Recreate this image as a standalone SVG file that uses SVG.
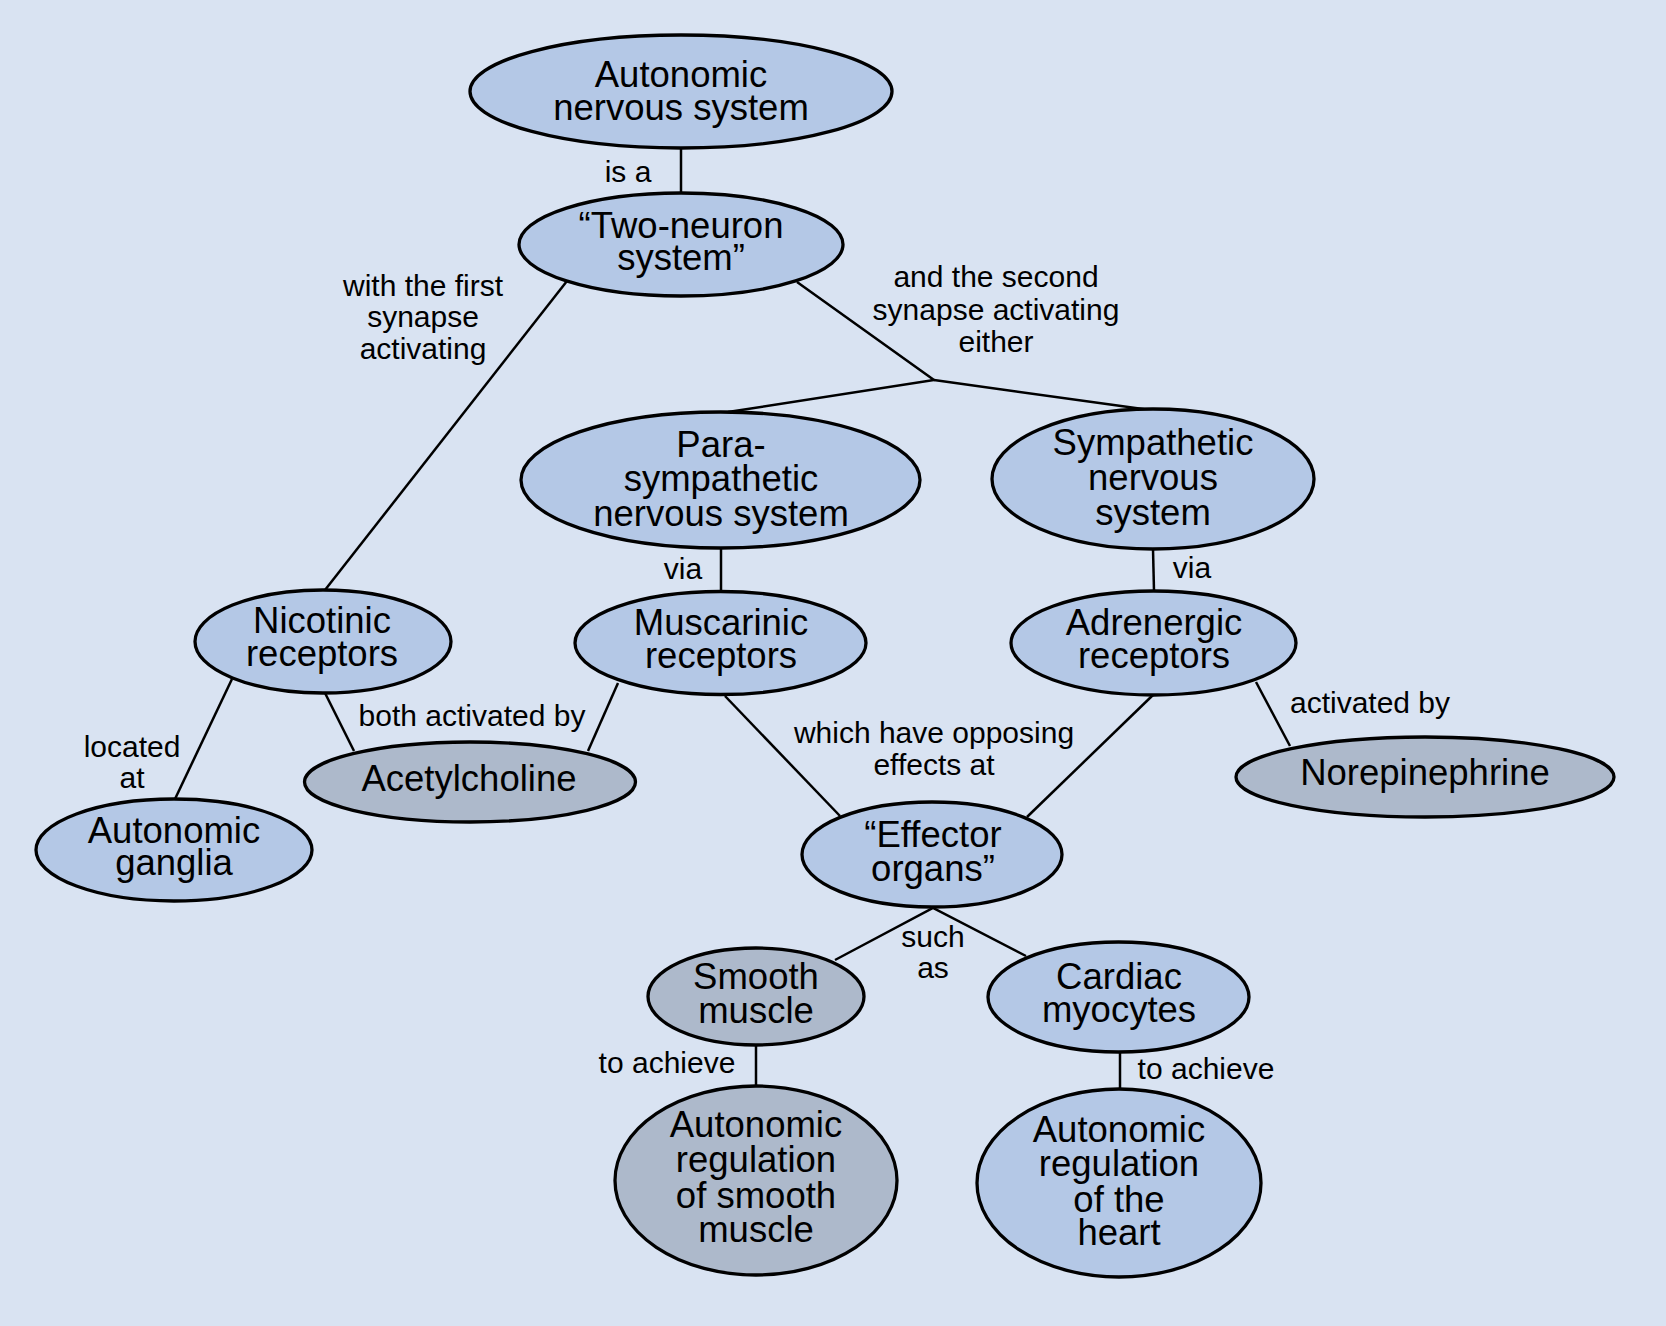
<svg xmlns="http://www.w3.org/2000/svg" width="1666" height="1326" viewBox="0 0 1666 1326">
<style>
.bg{fill:#d9e3f2}
.n{fill:#b4c8e6;stroke:#000;stroke-width:3.3}
.g{fill:#adb9cb;stroke:#000;stroke-width:3.3}
.t{font-family:"Liberation Sans",Arial,Helvetica,sans-serif;font-size:36.5px;fill:#000;text-anchor:middle}
.l{font-family:"Liberation Sans",Arial,Helvetica,sans-serif;font-size:30px;fill:#000;text-anchor:middle}
.c{stroke:#000;stroke-width:2.5;fill:none}
</style>
<rect class="bg" x="0" y="0" width="1666" height="1326"/>
<g id="connectors">
<line class="c" x1="681" y1="148" x2="681" y2="193"/>
<text class="l" x="628" y="182">is a</text>
<line class="c" x1="567" y1="281" x2="325" y2="590"/>
<text class="l" x="423" y="296">with the first</text>
<text class="l" x="423" y="327">synapse</text>
<text class="l" x="423" y="359">activating</text>
<polyline class="c" points="797,282 934,380 728,412"/>
<line class="c" x1="934" y1="380" x2="1150" y2="410"/>
<text class="l" x="996" y="287">and the second</text>
<text class="l" x="996" y="320">synapse activating</text>
<text class="l" x="996" y="352">either</text>
<line class="c" x1="721" y1="548" x2="721" y2="592"/>
<text class="l" x="683" y="579">via</text>
<line class="c" x1="1153" y1="549" x2="1154" y2="591"/>
<text class="l" x="1192" y="578">via</text>
<line class="c" x1="232" y1="679" x2="175" y2="799"/>
<text class="l" x="132" y="757">located</text>
<text class="l" x="132" y="788">at</text>
<line class="c" x1="325" y1="693" x2="354" y2="751"/>
<line class="c" x1="618" y1="683" x2="588" y2="751"/>
<text class="l" x="472" y="726">both activated by</text>
<line class="c" x1="725" y1="696" x2="840" y2="816"/>
<line class="c" x1="1153" y1="695" x2="1027" y2="817"/>
<text class="l" x="934" y="743">which have opposing</text>
<text class="l" x="934" y="775">effects at</text>
<line class="c" x1="1256" y1="682" x2="1290" y2="746"/>
<text class="l" x="1370" y="713">activated by</text>
<polyline class="c" points="835,960 933,908 1026,956"/>
<text class="l" x="933" y="947">such</text>
<text class="l" x="933" y="978">as</text>
<line class="c" x1="756" y1="1045" x2="756" y2="1086"/>
<text class="l" x="667" y="1073">to achieve</text>
<line class="c" x1="1120" y1="1052" x2="1120" y2="1089"/>
<text class="l" x="1206" y="1079">to achieve</text>
</g>
<g id="ans">
<ellipse class="n" cx="681" cy="91.5" rx="211" ry="56.5"/>
<text class="t" x="681" y="87">Autonomic</text>
<text class="t" x="681" y="120">nervous system</text>
</g>
<g id="twoneuron">
<ellipse class="n" cx="681" cy="244.5" rx="162" ry="51.5"/>
<text class="t" x="681" y="238">“Two-neuron</text>
<text class="t" x="681" y="270">system”</text>
</g>
<g id="para">
<ellipse class="n" cx="720.5" cy="480" rx="199.5" ry="68"/>
<text class="t" x="721" y="457">Para-</text>
<text class="t" x="721" y="491">sympathetic</text>
<text class="t" x="721" y="526">nervous system</text>
</g>
<g id="symp">
<ellipse class="n" cx="1153" cy="479" rx="161" ry="70"/>
<text class="t" x="1153" y="455">Sympathetic</text>
<text class="t" x="1153" y="490">nervous</text>
<text class="t" x="1153" y="525">system</text>
</g>
<g id="nicotinic">
<ellipse class="n" cx="323" cy="641.5" rx="128" ry="51.5"/>
<text class="t" x="322" y="633">Nicotinic</text>
<text class="t" x="322" y="666">receptors</text>
</g>
<g id="muscarinic">
<ellipse class="n" cx="720.5" cy="643" rx="145.5" ry="51.5"/>
<text class="t" x="721" y="635">Muscarinic</text>
<text class="t" x="721" y="668">receptors</text>
</g>
<g id="adrenergic">
<ellipse class="n" cx="1153.5" cy="643" rx="142.5" ry="52"/>
<text class="t" x="1154" y="635">Adrenergic</text>
<text class="t" x="1154" y="668">receptors</text>
</g>
<g id="ganglia">
<ellipse class="n" cx="174" cy="850" rx="138" ry="51"/>
<text class="t" x="174" y="843">Autonomic</text>
<text class="t" x="174" y="875">ganglia</text>
</g>
<g id="acetylcholine">
<ellipse class="g" cx="470" cy="782" rx="165.5" ry="40"/>
<text class="t" x="469" y="791">Acetylcholine</text>
</g>
<g id="norepinephrine">
<ellipse class="g" cx="1425" cy="777" rx="189" ry="40"/>
<text class="t" x="1425" y="785">Norepinephrine</text>
</g>
<g id="effector">
<ellipse class="n" cx="932" cy="854.5" rx="130" ry="52.5"/>
<text class="t" x="933" y="847">“Effector</text>
<text class="t" x="933" y="881">organs”</text>
</g>
<g id="smooth">
<ellipse class="g" cx="756" cy="996.5" rx="108" ry="48.5"/>
<text class="t" x="756" y="989">Smooth</text>
<text class="t" x="756" y="1023">muscle</text>
</g>
<g id="cardiac">
<ellipse class="n" cx="1118.5" cy="997" rx="130.5" ry="55"/>
<text class="t" x="1119" y="989">Cardiac</text>
<text class="t" x="1119" y="1022">myocytes</text>
</g>
<g id="regsmooth">
<ellipse class="g" cx="756" cy="1180.5" rx="141" ry="94.5"/>
<text class="t" x="756" y="1137">Autonomic</text>
<text class="t" x="756" y="1172">regulation</text>
<text class="t" x="756" y="1208">of smooth</text>
<text class="t" x="756" y="1242">muscle</text>
</g>
<g id="regheart">
<ellipse class="n" cx="1119" cy="1183" rx="142" ry="94"/>
<text class="t" x="1119" y="1142">Autonomic</text>
<text class="t" x="1119" y="1176">regulation</text>
<text class="t" x="1119" y="1212">of the</text>
<text class="t" x="1119" y="1245">heart</text>
</g>
</svg>
